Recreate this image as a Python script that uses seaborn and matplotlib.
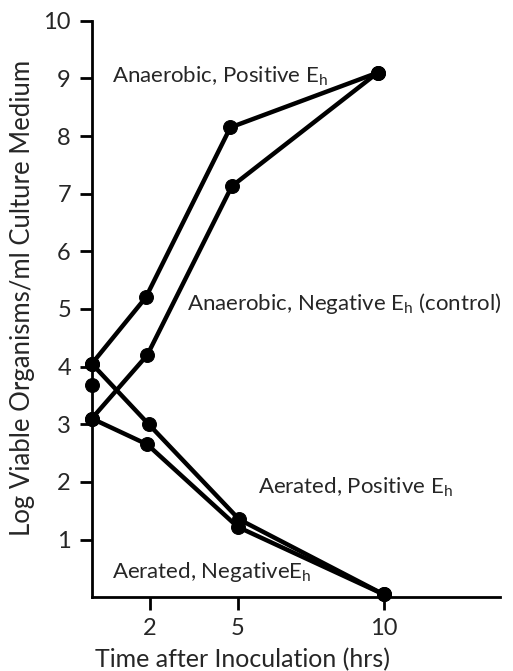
import numpy as np
import pandas as pd
import matplotlib
matplotlib.use('Agg')
import matplotlib.pyplot as plt
import seaborn as sns

# values
hours_anaer_pos = [0, 1.85, 4.75, 9.8]
log_anaer_pos = [4.05, 5.2, 8.15, 9.1]
hours_anaer_neg = [0, 1.9, 4.8, 9.8]
log_anaer_neg = [3.1, 4.2, 7.13, 9.1]
hours_aer_pos = [0, 1.95, 5.05, 10]
log_aer_pos = [4.05, 3.0, 1.35, 0.05]
hours_aer_neg = [0, 1.9, 5.0, 10]
log_aer_neg = [3.1, 2.65, 1.22, 0.05]
hours_single = [0]
log_single = [3.68]

series = {
    'Anaerobic, Positive': (hours_anaer_pos, log_anaer_pos),
    'Anaerobic, Negative': (hours_anaer_neg, log_anaer_neg),
    'Aerated, Positive': (hours_aer_pos, log_aer_pos),
    'Aerated, Negative': (hours_aer_neg, log_aer_neg),
    'single': (hours_single, log_single),
}
df = pd.concat([pd.DataFrame({'hours': x, 'log': y, 'series': name})
                for name, (x, y) in series.items()], ignore_index=True)

sns.set_style('ticks')
plt.rcParams['font.family'] = ['Lato', 'DejaVu Sans']
plt.rcParams['mathtext.fontset'] = 'custom'
plt.rcParams['mathtext.rm'] = 'Lato'
plt.rcParams['mathtext.default'] = 'regular'

fig = plt.figure(figsize=(5.13, 6.71), dpi=100)
ax = fig.add_axes([0.179, 0.110, 0.796, 0.859])

sns.lineplot(data=df, x='hours', y='log', hue='series',
             palette=['black'] * len(series), marker='o', markersize=10,
             markeredgecolor='black', linewidth=3.2, sort=False,
             legend=False, ax=ax)
for line in ax.lines:
    line.set_clip_on(False)

ax.set_xlim(0, 14)
ax.set_ylim(0, 10)
ax.set_xticks([2, 5, 10])
ax.set_yticks(range(1, 11))
ax.tick_params(axis='both', width=2, length=9, labelsize=17, color='black')
ax.tick_params(axis='x', pad=6)
ax.tick_params(axis='y', pad=6)
sns.despine(ax=ax, top=True, right=True)
for s in ['left', 'bottom']:
    ax.spines[s].set_linewidth(2)
    ax.spines[s].set_color('black')

ax.set_xlabel('Time after Inoculation (hrs)', fontsize=18)
ax.set_ylabel('Log Viable Organisms/ml Culture Medium', fontsize=18.5)
ax.xaxis.set_label_coords(0.37, -0.088)
ax.yaxis.set_label_coords(-0.14, 0.52)

fs = 16
ax.text(0.7, 9.03, r'Anaerobic, Positive E$_h$', fontsize=fs, va='center')
ax.text(3.28, 5.1, r'Anaerobic, Negative E$_h$ (control)', fontsize=fs, va='center')
ax.text(5.69, 1.91, r'Aerated, Positive E$_h$', fontsize=fs, va='center')
ax.text(0.69, 0.43, r'Aerated, NegativeE$_h$', fontsize=fs, va='center')

fig.savefig('out.png', dpi=100)
